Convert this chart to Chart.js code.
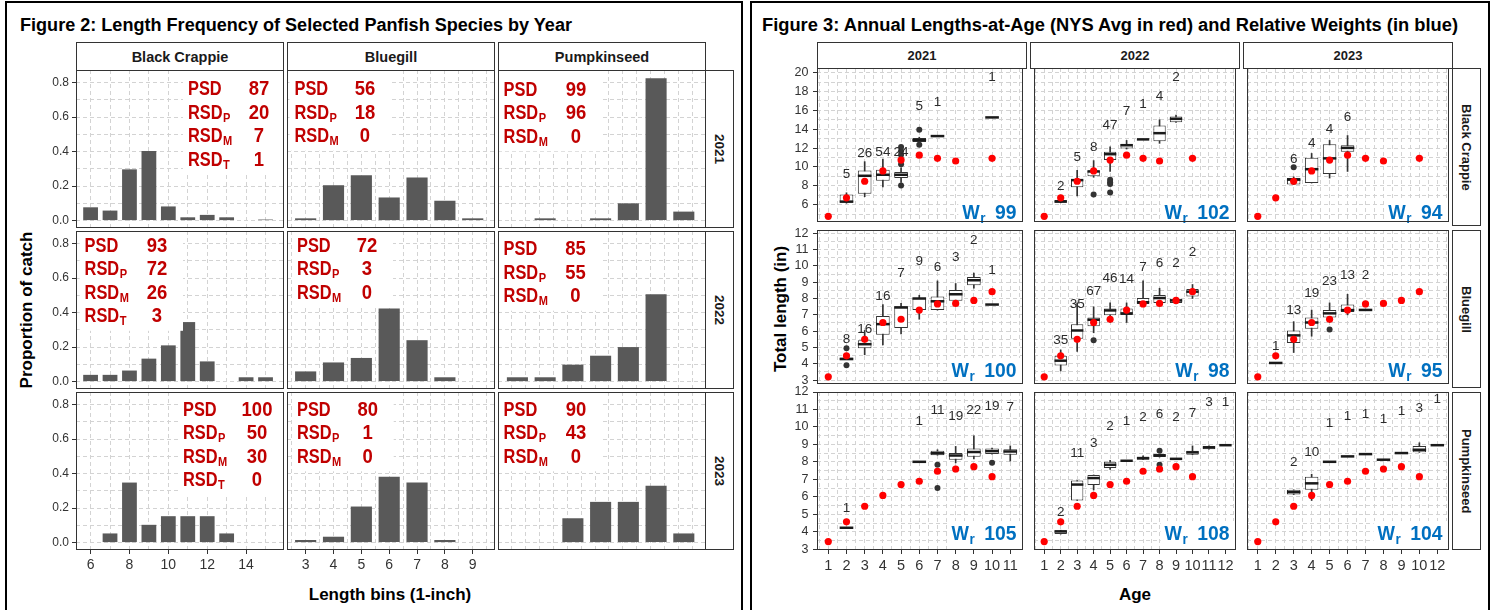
<!DOCTYPE html>
<html>
<head>
<meta charset="utf-8">
<title>Panfish length frequency and lengths-at-age</title>
<script src="https://cdn.jsdelivr.net/npm/chart.js@4.4.1/dist/chart.umd.min.js"></script>
<style>
  html, body { margin: 0; padding: 0; background: #fff; }
  body { position: relative; width: 1494px; height: 610px; overflow: hidden;
         font-family: "Liberation Sans", Arial, Helvetica, sans-serif; color: #000; }
  .frame { position: absolute; top: 1px; height: 700px; border: 2px solid #000; box-sizing: border-box; }
  .title { position: absolute; top: 14px; font-size: 18px; font-weight: bold; white-space: nowrap;
           line-height: 22px; transform-origin: 0 50%; }
  .strip { position: absolute; box-sizing: border-box; border: 1px solid #333; background: #fff;
           display: flex; align-items: center; justify-content: center; font-weight: bold;
           color: #1a1a1a; white-space: nowrap; }
  .vstrip { writing-mode: vertical-rl; }
  .axtitle { position: absolute; font-size: 17px; font-weight: bold; white-space: nowrap;
             line-height: 20px; transform: translate(-50%, -50%); }
  .axtitle.rot { transform: translate(-50%, -50%) rotate(-90deg); }
  canvas { position: absolute; }
</style>
</head>
<body>
<script>
// ---- names ----
const speciesNames = ['Black Crappie', 'Bluegill', 'Pumpkinseed'];
const yearNames = ['2021', '2022', '2023'];

// ---- Figure 2: proportion of catch by 1-inch length bin ----
const binsBC = [6, 7, 8, 9, 10, 11, 12, 13, 14, 15];
const binsBG = [3, 4, 5, 6, 7, 8, 9];
const binsPS = [3, 4, 5, 6, 7, 8, 9];

const freqBC2021 = [0.077, 0.058, 0.297, 0.403, 0.082, 0.019, 0.033, 0.019, null, 0.006];
const freqBC2022 = [0.039, 0.039, 0.064, 0.133, 0.21, 0.345, 0.117, null, 0.025, 0.025];
const freqBC2023 = [null, 0.053, 0.348, 0.103, 0.153, 0.153, 0.153, 0.053, null, null];
const freqBG2021 = [0.013, 0.205, 0.263, 0.134, 0.25, 0.115, 0.013];
const freqBG2022 = [0.059, 0.111, 0.137, 0.423, 0.24, 0.025, null];
const freqBG2023 = [0.015, 0.034, 0.209, 0.382, 0.348, 0.015, null];
const freqPS2021 = [null, 0.013, null, 0.013, 0.1, 0.825, 0.052];
const freqPS2022 = [0.025, 0.025, 0.098, 0.15, 0.2, 0.507, null];
const freqPS2023 = [null, null, 0.141, 0.236, 0.236, 0.33, 0.053];

const psdNames = ['PSD', 'RSD', 'RSD', 'RSD'];
const psdSubs = ['', 'P', 'M', 'T'];
const psdBC = [[87, 20, 7, 1], [93, 72, 26, 3], [100, 50, 30, 0]];
const psdBG = [[56, 18, 0], [72, 3, 0], [80, 1, 0]];
const psdPS = [[99, 96, 0], [85, 55, 0], [90, 43, 0]];

// ---- Figure 3: lengths-at-age ----
const ages2021 = ['1', '2', '3', '4', '5', '6', '7', '8', '9', '10', '11'];
const ages2022 = ['1', '2', '3', '4', '5', '6', '7', '8', '9', '10', '11', '12'];
const ages2023 = ['1', '2', '3', '4', '5', '6', '7', '8', '9', '10', '12'];

// NYS average length for ages 1..10 (red dots)
const nysBC = [4.76, 6.72, 8.48, 9.58, 10.73, 11.25, 10.91, 10.63, null, 10.91];
const nysBG = [3.2, 4.49, 5.5, 6.53, 6.73, 7.29, 7.67, 7.7, 7.88, 8.42];
const nysPS = [3.45, 4.58, 5.47, 6.09, 6.71, 6.9, 7.47, 7.6, 7.73, 7.16];

// boxes: [age, low whisker, q1, median, q3, high whisker]
const boxBC2021 = [[2, 6.16, 6.22, 6.32, 7.08, 7.26], [3, 6.84, 7.16, 9.06, 9.63, 10.56],
  [4, 7.89, 8.54, 9.17, 9.69, 10.83], [5, 8.37, 8.82, 9.17, 9.45, 9.9],
  [6, 12.6, 12.65, 12.85, 13.06, 13.15], [7, 13.27, 13.27, 13.27, 13.27, 13.27],
  [10, 15.25, 15.25, 15.25, 15.25, 15.25]];
const boxBC2022 = [[2, 6.2, 6.22, 6.32, 6.5, 6.55], [3, 6.92, 7.85, 8.6, 8.65, 9.63],
  [4, 8.9, 9.0, 9.52, 9.63, 10.67], [5, 9.52, 10.73, 11.35, 11.6, 12.12],
  [6, 11.9, 11.95, 12.3, 12.47, 12.81], [7, 12.92, 12.92, 12.92, 12.92, 12.92],
  [8, 12.5, 12.71, 13.58, 14.38, 15.0], [9, 14.73, 14.73, 15.1, 15.35, 15.5]];
const boxBC2023 = [[3, 8.13, 8.13, 8.65, 8.82, 8.95], [4, 8.3, 8.3, 9.76, 10.98, 11.43],
  [5, 8.82, 9.24, 10.91, 12.4, 12.81], [6, 9.52, 11.6, 12.02, 12.29, 13.33]];
const boxBG2021 = [[2, 4.25, 4.25, 4.29, 4.39, 4.39], [3, 4.55, 4.95, 5.2, 5.44, 6.04],
  [4, 5.15, 5.78, 6.43, 6.93, 7.63], [5, 5.83, 6.2, 7.45, 7.53, 7.7],
  [6, 6.73, 7.29, 8.0, 8.03, 8.2], [7, 7.29, 7.29, 7.83, 8.13, 9.08],
  [8, 7.63, 7.86, 8.26, 8.52, 8.92], [9, 8.63, 8.82, 9.12, 9.32, 9.56],
  [10, 7.63, 7.63, 7.63, 7.63, 7.63]];
const boxBG2022 = [[2, 3.56, 3.89, 4.19, 4.49, 4.85], [3, 4.75, 5.54, 6.04, 6.43, 7.73],
  [4, 5.9, 6.3, 6.7, 6.83, 7.49], [5, 6.53, 6.97, 7.27, 7.39, 7.73],
  [6, 6.53, 6.99, 7.09, 7.39, 7.73], [7, 7.67, 7.67, 7.77, 8.03, 9.08],
  [8, 7.67, 7.73, 8.03, 8.22, 8.63], [9, 7.67, 7.73, 7.88, 7.99, 8.03],
  [10, 8.0, 8.13, 8.42, 8.58, 8.86]];
const boxBG2023 = [[2, 4.05, 4.05, 4.05, 4.05, 4.05], [3, 4.69, 5.28, 5.74, 6.04, 6.58],
  [4, 5.69, 6.14, 6.53, 6.83, 7.29], [5, 6.53, 6.83, 7.09, 7.29, 7.73],
  [6, 7.0, 7.17, 7.29, 7.63, 8.26], [7, 7.25, 7.25, 7.3, 7.35, 7.35]];
const boxPS2021 = [[2, 4.24, 4.24, 4.24, 4.24, 4.24], [6, 8.01, 8.01, 8.01, 8.01, 8.01],
  [7, 8.39, 8.39, 8.5, 8.64, 8.7], [8, 7.95, 8.13, 8.37, 8.51, 8.89],
  [9, 8.18, 8.3, 8.57, 8.77, 9.49], [10, 8.45, 8.45, 8.62, 8.77, 8.8],
  [11, 8.05, 8.42, 8.6, 8.73, 8.92]];
const boxPS2022 = [[2, 3.88, 3.88, 4.03, 4.1, 4.1], [3, 5.8, 5.8, 6.71, 6.94, 6.94],
  [4, 6.4, 6.69, 7.08, 7.26, 7.26], [5, 7.57, 7.66, 7.84, 8.01, 8.1],
  [6, 8.07, 8.07, 8.07, 8.07, 8.07], [7, 8.13, 8.13, 8.22, 8.3, 8.35],
  [8, 8.28, 8.28, 8.37, 8.45, 8.45], [9, 8.18, 8.18, 8.18, 8.18, 8.18],
  [10, 8.42, 8.42, 8.55, 8.64, 8.92], [11, 8.73, 8.73, 8.83, 8.92, 8.92],
  [12, 8.96, 8.96, 8.96, 8.96, 8.96]];
const boxPS2023 = [[3, 6.14, 6.14, 6.28, 6.41, 6.41], [4, 5.8, 6.41, 6.78, 7.16, 7.3],
  [5, 8.01, 8.01, 8.01, 8.01, 8.01], [6, 8.32, 8.32, 8.32, 8.32, 8.32],
  [7, 8.45, 8.45, 8.45, 8.45, 8.45], [8, 8.13, 8.13, 8.13, 8.13, 8.13],
  [9, 8.51, 8.51, 8.51, 8.51, 8.51], [10, 8.55, 8.55, 8.7, 8.92, 9.1],
  [12, 8.96, 8.96, 8.96, 8.96, 8.96]];

// outliers: [age, length]
const outBC2021 = [[5, 8.02], [5, 10.28], [5, 10.8], [5, 11.3], [5, 11.7], [5, 12.1], [6, 13.93], [6, 12.36]];
const outBC2022 = [[4, 7.08], [5, 8.65], [5, 8.37], [5, 8.2], [5, 7.3]];
const outBC2023 = [[3, 9.97]];
const outBG2021 = [[2, 4.95], [2, 3.91]];
const outBG2022 = [[4, 5.44]];
const outBG2023 = [[5, 6.1]];
const outPS2021 = [[7, 7.84], [7, 6.52], [10, 7.96]];
const outPS2022 = [[8, 8.64], [8, 7.84]];
const outPS2023 = [];

// sample sizes printed above the boxes: [age, length, n]
const nBC2021 = [[2, 9.17, '5'], [3, 11.43, '26'], [4, 11.53, '54'], [5, 11.6, '24'], [6, 16.46, '5'], [7, 16.88, '1'], [10, 19.48, '1']];
const nBC2022 = [[2, 7.96, '2'], [3, 10.98, '5'], [4, 12.05, '8'], [5, 14.38, '47'], [6, 15.94, '7'], [7, 16.64, '1'], [8, 17.5, '4'], [9, 19.48, '2']];
const nBC2023 = [[3, 10.8, '6'], [4, 12.54, '4'], [5, 14.03, '4'], [6, 15.25, '6']];
const nBG2021 = [[2, 5.5, '8'], [3, 6.14, '16'], [4, 8.16, '16'], [5, 9.56, '7'], [6, 10.31, '9'], [7, 9.91, '6'], [8, 10.51, '3'], [9, 11.6, '2'], [10, 9.75, '1']];
const nBG2022 = [[2, 5.44, '35'], [3, 7.63, '35'], [4, 8.46, '67'], [5, 9.22, '46'], [6, 9.16, '14'], [7, 9.91, '7'], [8, 10.15, '6'], [9, 10.15, '2'], [10, 10.81, '2']];
const nBG2023 = [[2, 5.1, '1'], [3, 7.27, '13'], [4, 8.32, '19'], [5, 9.06, '23'], [6, 9.42, '13'], [7, 9.42, '2']];
const nPS2021 = [[2, 5.33, '1'], [6, 10.3, '1'], [7, 10.94, '11'], [8, 10.62, '19'], [9, 10.94, '22'], [10, 11.19, '19'], [11, 11.1, '7']];
const nPS2022 = [[2, 5.15, '2'], [3, 8.51, '11'], [4, 9.06, '3'], [5, 10.05, '2'], [6, 10.3, '1'], [7, 10.53, '2'], [8, 10.72, '6'], [9, 10.53, '2'], [10, 10.81, '7'], [11, 11.41, '3'], [12, 11.41, '1']];
const nPS2023 = [[3, 7.98, '2'], [4, 8.58, '10'], [5, 10.24, '1'], [6, 10.62, '1'], [7, 10.75, '1'], [8, 10.43, '1'], [9, 10.87, '1'], [10, 11.06, '3'], [12, 11.57, '1']];

// relative weights (Wr) per year
const wrBC = [99, 102, 94];
const wrBG = [100, 98, 95];
const wrPS = [105, 108, 104];

// ---- layout ----
const SANS = '"Liberation Sans", Arial, Helvetica, sans-serif';
Chart.defaults.font.family = SANS;
const PAD = 8;
const F2 = { colX: [76, 287, 498], rowY: [70, 231, 392], w: 208, h: 158, axW: 46, axH: 26 };
const F3 = { colX: [817, 1030, 1243], rowY: [68, 230, 392], w: 210, h: 158, axW: 42, axH: 26 };

function addDiv(cls, text, css) {
  const d = document.createElement('div');
  d.className = cls;
  d.textContent = text;
  Object.assign(d.style, css);
  document.body.appendChild(d);
  return d;
}

function drawText(ctx, text, x, y, font, sx, align) {
  ctx.save();
  ctx.font = font;
  ctx.textAlign = align;
  ctx.translate(x, y);
  ctx.scale(sx, 1);
  ctx.fillText(text, 0, 0);
  ctx.restore();
}

function textWidth(ctx, text, font, sx) {
  ctx.save();
  ctx.font = font;
  const w = ctx.measureText(text).width * sx;
  ctx.restore();
  return w;
}

const near = (v, step) => Math.abs(v / step - Math.round(v / step)) < 1e-6;

function scaleOpts(min, max, step, isMajor, fmt, show, size, fontSize, tickPad) {
  return {
    type: 'linear', min: min, max: max, offset: false, beginAtZero: false,
    grid: {
      color: '#d3d3d3', lineWidth: 1, offset: false, borderDash: [4, 3],
      drawTicks: show, tickLength: 4, tickWidth: 1, tickBorderDash: [],
      tickColor: (c) => (c.tick && isMajor(c.tick.value) ? '#333' : 'rgba(0,0,0,0)')
    },
    border: { display: false, dash: [4, 3] },
    ticks: {
      display: show, stepSize: step, autoSkip: false, includeBounds: false,
      maxRotation: 0, minRotation: 0, padding: tickPad, color: '#333',
      font: { size: fontSize },
      callback: (v) => (isMajor(v) ? fmt(v) : '')
    },
    afterFit: (s) => {
      if (s.isHorizontal()) s.height = show ? size : 0;
      else s.width = show ? size : 0;
      s.paddingTop = s.paddingBottom = s.paddingLeft = s.paddingRight = 0;
    }
  };
}

function panelCanvas(L, c, r) {
  const left = L.colX[c] - (c === 0 ? L.axW : 0);
  const w = L.w + (c === 0 ? L.axW : 0);
  const h = L.h + PAD + (r === 2 ? L.axH : 0);
  const cv = document.createElement('canvas');
  cv.width = w;
  cv.height = h;
  cv.style.left = left + 'px';
  cv.style.top = (L.rowY[r] - PAD) + 'px';
  cv.style.width = w + 'px';
  cv.style.height = h + 'px';
  document.body.appendChild(cv);
  return cv;
}

function baseOptions(x, y) {
  return {
    responsive: false, animation: false, devicePixelRatio: 1, events: [],
    layout: { padding: { top: PAD, left: 0, right: 0, bottom: 0 } },
    plugins: { legend: { display: false }, tooltip: { enabled: false } },
    scales: { x: x, y: y }
  };
}

const framePlugin = {
  id: 'frame',
  afterDraw(chart) {
    const a = chart.chartArea, ctx = chart.ctx;
    ctx.save();
    ctx.strokeStyle = '#333';
    ctx.lineWidth = 1;
    ctx.strokeRect(a.left + 0.5, a.top + 0.5, a.right - a.left - 1, a.bottom - a.top - 1);
    ctx.restore();
  }
};

// PSD / RSD block, spot = [label x, number centre x, first line centre y] within the panel
function psdPlugin(values, spot) {
  return {
    id: 'psd',
    afterDatasetsDraw(chart) {
      const ctx = chart.ctx, a = chart.chartArea;
      const big = 'bold 21px ' + SANS, small = 'bold 13px ' + SANS;
      const lx = a.left + spot[0], nx = a.left + spot[1], y0 = a.top + spot[2];
      const last = y0 + (values.length - 1) * 23.5;
      ctx.save();
      ctx.fillStyle = '#fff';
      const bx = Math.max(lx - 5, a.left + 1), br = Math.min(nx + 26, a.right - 1);
      ctx.fillRect(bx, a.top + 1, br - bx, last + 15 - a.top);
      ctx.fillStyle = '#c00000';
      values.forEach((v, i) => {
        const base = y0 + i * 23.5 + 7.5;
        drawText(ctx, psdNames[i], lx, base, big, 0.78, 'left');
        if (psdSubs[i]) {
          const w = textWidth(ctx, psdNames[i], big, 0.78);
          drawText(ctx, psdSubs[i], lx + w + 0.5, base + 3, small, 0.85, 'left');
        }
        drawText(ctx, String(v), nx, base, big, 0.88, 'center');
      });
      ctx.restore();
    }
  };
}

function countPlugin(labels, ages) {
  return {
    id: 'counts',
    afterDatasetsDraw(chart) {
      const ctx = chart.ctx, xs = chart.scales.x, ys = chart.scales.y;
      ctx.save();
      ctx.font = '13.5px ' + SANS;
      ctx.fillStyle = '#2b2b2b';
      ctx.textAlign = 'center';
      ctx.textBaseline = 'middle';
      labels.forEach(([age, y, t]) => {
        ctx.fillText(t, xs.getPixelForValue(ages.indexOf(String(age)) + 1), ys.getPixelForValue(y));
      });
      ctx.restore();
    }
  };
}

function wrPlugin(value, dy) {
  return {
    id: 'wr',
    afterDatasetsDraw(chart) {
      const ctx = chart.ctx, a = chart.chartArea;
      const big = 'bold 21px ' + SANS, small = 'bold 15px ' + SANS;
      const wW = textWidth(ctx, 'W', big, 0.88);
      const wr = textWidth(ctx, 'r', small, 0.9);
      const wn = textWidth(ctx, String(value), big, 0.92);
      const right = a.right - 6.5, base = a.bottom - dy;
      const x0 = right - wn - 10 - wr - wW;
      ctx.save();
      ctx.fillStyle = '#fff';
      ctx.fillRect(x0 - 4, base - 19, a.right - 1 - (x0 - 4), a.bottom - 1 - (base - 19));
      ctx.fillStyle = '#0070c0';
      drawText(ctx, 'W', x0, base, big, 0.88, 'left');
      drawText(ctx, 'r', x0 + wW + 0.5, base + 4, small, 0.9, 'left');
      drawText(ctx, String(value), right, base, big, 0.92, 'right');
      ctx.restore();
    }
  };
}

// ---- frames, titles, strips ----
addDiv('frame', '', { left: '5px', width: '738px' });
addDiv('frame', '', { left: '750px', width: '740px' });
const t2 = addDiv('title', 'Figure 2: Length Frequency of Selected Panfish Species by Year', { left: '20px' });
const t3 = addDiv('title', 'Figure 3: Annual Lengths-at-Age (NYS Avg in red) and Relative Weights (in blue)', { left: '762px' });
t2.style.transform = 'scaleX(' + (552 / t2.getBoundingClientRect().width) + ')';
t3.style.transform = 'scaleX(' + (696 / t3.getBoundingClientRect().width) + ')';

speciesNames.forEach((s, c) => {
  addDiv('strip', s, { left: F2.colX[c] + 'px', top: '42px', width: F2.w + 'px', height: '29px', fontSize: '14.5px' });
});
yearNames.forEach((y, r) => {
  addDiv('strip vstrip', y, { left: '705px', top: F2.rowY[r] + 'px', width: '29px', height: F2.h + 'px', fontSize: '13.5px' });
});
yearNames.forEach((y, c) => {
  addDiv('strip', y, { left: F3.colX[c] + 'px', top: '42px', width: F3.w + 'px', height: '27px', fontSize: '13px' });
});
speciesNames.forEach((s, r) => {
  addDiv('strip vstrip', s, { left: '1452px', top: F3.rowY[r] + 'px', width: '29px', height: F3.h + 'px', fontSize: '13px' });
});

addDiv('axtitle rot', 'Proportion of catch', { left: '27px', top: '310px' });
addDiv('axtitle', 'Length bins (1-inch)', { left: '390px', top: '595px' });
addDiv('axtitle rot', 'Total length (in)', { left: '781px', top: '309px' });
addDiv('axtitle', 'Age', { left: '1135px', top: '595px' });

// ---- Figure 2 panels (rows = years, columns = species) ----
const f2Bins = [binsBC, binsBG, binsPS];
const f2Freq = [[freqBC2021, freqBC2022, freqBC2023], [freqBG2021, freqBG2022, freqBG2023], [freqPS2021, freqPS2022, freqPS2023]];
const f2Psd = [psdBC, psdBG, psdPS];
const f2XRange = [[5.25, 15.95], [2.33, 9.8], [2.3, 9.8]];
const f2XStep = [1, 0.5, 0.5];
const f2Spots = [
  [[112, 183, 17.5], [7.5, 78, 17.7], [5.6, 78, 18.3]],
  [[8.6, 81, 13.3], [10, 80, 13.3], [5.6, 77.5, 16.7]],
  [[107, 181, 16.3], [10, 80.7, 16.3], [5.6, 78, 16.3]]
];

for (let r = 0; r < 3; r++) {
  for (let c = 0; c < 3; c++) {
    const bins = f2Bins[c], vals = f2Freq[c][r];
    const xMajor = c === 0 ? (v) => near(v, 2) : (v) => near(v, 1);
    const x = scaleOpts(f2XRange[c][0], f2XRange[c][1], f2XStep[c], xMajor, (v) => String(Math.round(v)),
      r === 2, F2.axH, 14, 3);
    const y = scaleOpts(-0.043, 0.873, 0.1, (v) => near(v, 0.2), (v) => v.toFixed(1),
      c === 0, F2.axW, 12, 3);
    new Chart(panelCanvas(F2, c, r), {
      type: 'bar',
      data: {
        datasets: [{
          data: bins.map((b, i) => ({ x: b, y: vals[i] })).filter((d) => d.y != null),
          backgroundColor: '#595959', borderWidth: 0, barPercentage: 0.76,
          // the bar ruler follows the grid step, so widen by 1 / step to get 76 % of a bin
          categoryPercentage: 1 / f2XStep[c]
        }]
      },
      options: baseOptions(x, y),
      plugins: [psdPlugin(f2Psd[c][r], f2Spots[r][c]), framePlugin]
    });
  }
}

// ---- Figure 3 panels (rows = species, columns = years) ----
const f3Ages = [ages2021, ages2022, ages2023];
const f3Boxes = [[boxBC2021, boxBC2022, boxBC2023], [boxBG2021, boxBG2022, boxBG2023], [boxPS2021, boxPS2022, boxPS2023]];
const f3Out = [[outBC2021, outBC2022, outBC2023], [outBG2021, outBG2022, outBG2023], [outPS2021, outPS2022, outPS2023]];
const f3N = [[nBC2021, nBC2022, nBC2023], [nBG2021, nBG2022, nBG2023], [nPS2021, nPS2022, nPS2023]];
const f3Nys = [nysBC, nysBG, nysPS];
const f3Wr = [wrBC, wrBG, wrPS];
const f3XRange = [[0.38, 11.7], [0.38, 12.64], [0.4, 11.65]];
const f3YRange = [[4.16, 20.49], [2.76, 12.2], [2.97, 12.0]];
const f3YStep = [1, 0.5, 0.5];
const f3YMajor = [(v) => near(v, 2), (v) => near(v, 1), (v) => near(v, 1)];
const f3WrDy = [3.5, 7, 10];

for (let r = 0; r < 3; r++) {
  for (let c = 0; c < 3; c++) {
    const ages = f3Ages[c];
    const pos = (age) => ages.indexOf(String(age)) + 1;
    const boxes = f3Boxes[r][c];
    const xMajor = (v) => near(v, 1) && v >= 1 && v <= ages.length;
    const x = scaleOpts(f3XRange[c][0], f3XRange[c][1], 0.5, xMajor, (v) => ages[Math.round(v) - 1],
      r === 2, F3.axH, 14.5, 3);
    const y = scaleOpts(f3YRange[r][0], f3YRange[r][1], f3YStep[r], f3YMajor[r], (v) => String(Math.round(v)),
      c === 0, F3.axW, 12.5, 4.5);
    const halfBox = (ctx) => {
      const s = ctx.chart.scales.x;
      return Math.abs(s.getPixelForValue(1) - s.getPixelForValue(0)) * 0.375;
    };
    new Chart(panelCanvas(F3, c, r), {
      type: 'bar',
      data: {
        datasets: [
          {
            data: boxes.map((b) => ({ x: pos(b[0]), y: [b[1], b[5]] })),
            backgroundColor: '#333', borderWidth: 0, barThickness: 1, grouped: false, order: 5
          },
          {
            data: boxes.map((b) => ({ x: pos(b[0]), y: [b[2], b[4]] })),
            backgroundColor: '#fff', borderColor: '#333', borderWidth: 1, borderSkipped: false,
            barPercentage: 0.75, categoryPercentage: 2, grouped: false, order: 4
          },
          {
            type: 'scatter',
            data: boxes.map((b) => ({ x: pos(b[0]), y: b[3] })),
            pointStyle: 'line', pointRadius: halfBox, borderColor: '#1a1a1a', pointBorderWidth: 2.5, order: 3
          },
          {
            type: 'scatter',
            data: f3Out[r][c].map((o) => ({ x: pos(o[0]), y: o[1] })),
            pointRadius: 3, backgroundColor: '#333', borderWidth: 0, order: 2
          },
          {
            type: 'scatter',
            data: f3Nys[r].map((v, i) => (v == null ? null : { x: pos(i + 1), y: v })).filter(Boolean),
            pointRadius: 3.6, backgroundColor: '#ff0000', borderWidth: 0, order: 1
          }
        ]
      },
      options: baseOptions(x, y),
      plugins: [countPlugin(f3N[r][c], ages), wrPlugin(f3Wr[r][c], f3WrDy[r]), framePlugin]
    });
  }
}
</script>
</body>
</html>
